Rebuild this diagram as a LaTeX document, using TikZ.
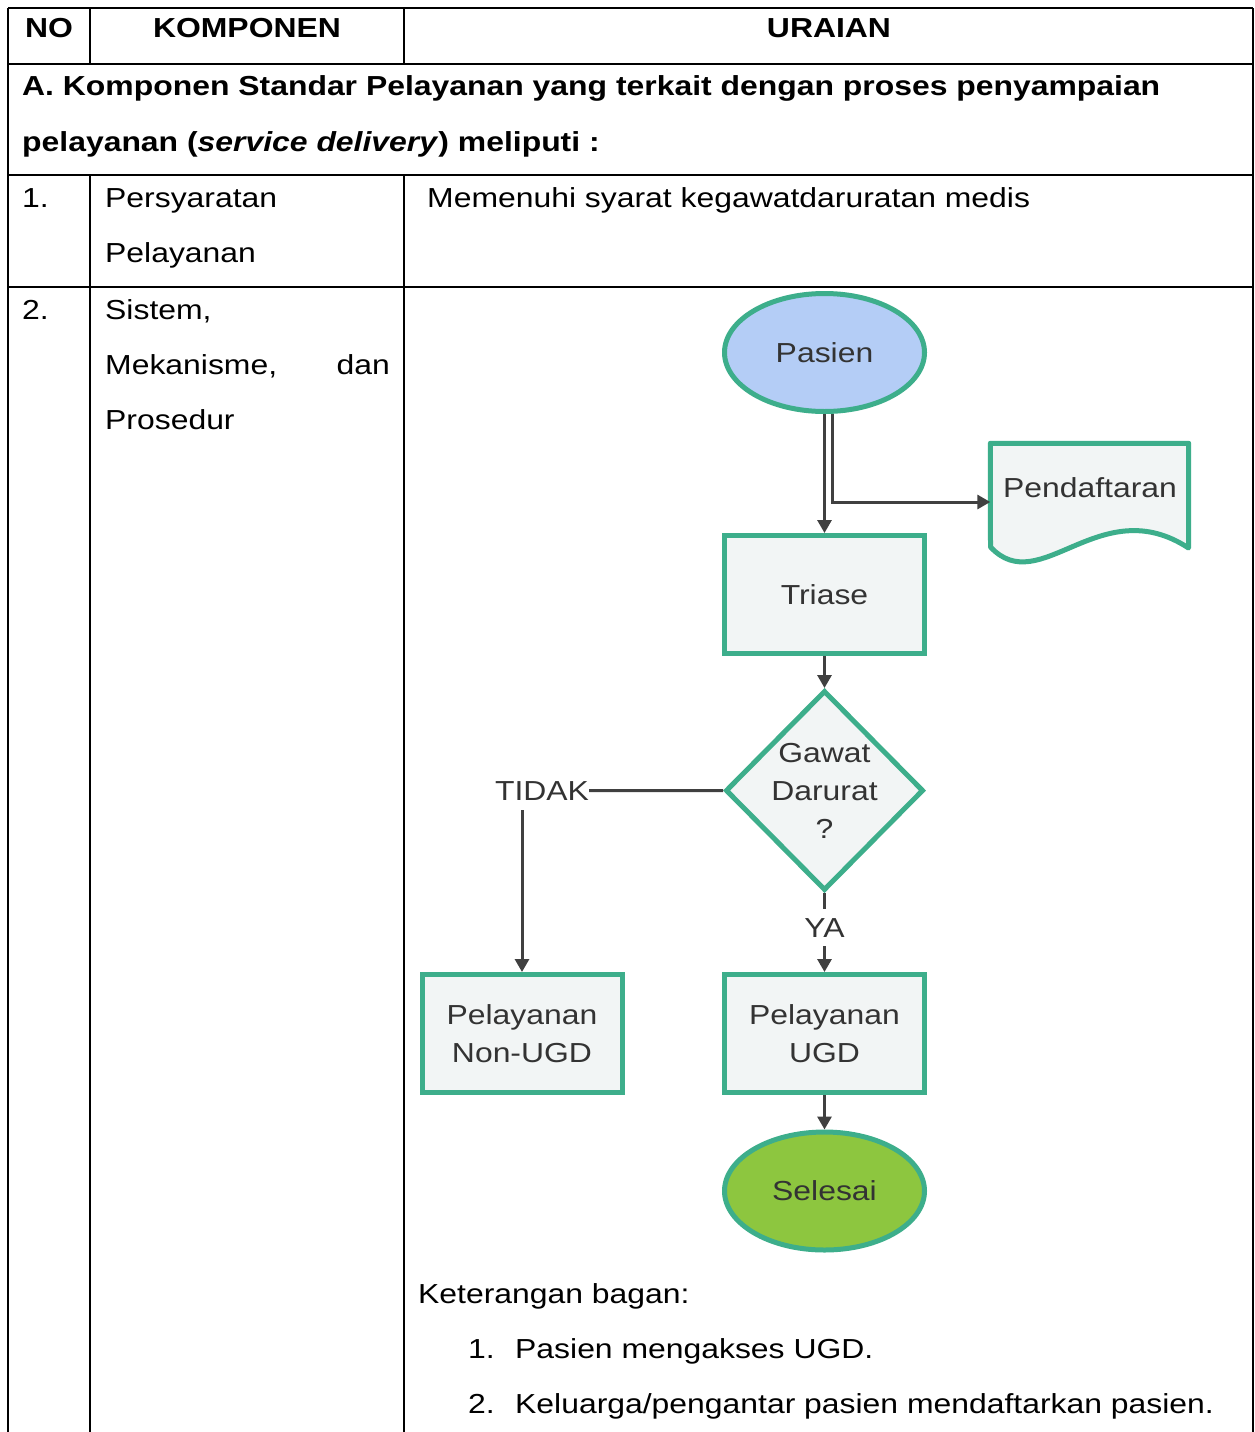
\documentclass[tikz,border=0pt]{standalone}
\usepackage{fontspec}
\setmainfont[FakeStretch=1.16]{Liberation Sans}
\usetikzlibrary{shapes.geometric,arrows.meta,calc}
\definecolor{fcgreen}{HTML}{3DAE8B}
\definecolor{fcblue}{HTML}{B4CDF6}
\definecolor{fcbox}{HTML}{F2F5F5}
\definecolor{fcend}{HTML}{8DC63F}
\definecolor{fctext}{HTML}{333333}
\definecolor{fcarrow}{HTML}{404040}
\begin{document}
\begin{tikzpicture}[x=1pt,y=-1pt,
  tab/.style={line width=2.2pt,black},
  txt/.style={font=\fontsize{27.5}{33}\selectfont,inner sep=0pt,anchor=base west},
  btxt/.style={font=\fontsize{27.5}{33}\selectfont\bfseries,inner sep=0pt},
  fctxt/.style={font=\fontsize{27.5}{38}\selectfont,text=fctext,align=center},
  shapebase/.style={draw=fcgreen,line width=5pt,fctxt,inner sep=0pt},
  fcrect/.style={shapebase,rectangle,fill=fcbox,minimum width=200pt,minimum height=118pt},
  fcterm/.style={shapebase,ellipse,minimum width=200pt,minimum height=118pt},
  fcdiam/.style={shapebase,diamond,fill=fcbox,minimum width=198pt,minimum height=200pt},
  flowarrow/.style={draw=fcarrow,line width=3pt,-{Triangle[length=13pt,width=14pt]}},
  flowline/.style={draw=fcarrow,line width=3pt},
  lbl/.style={fctxt,inner sep=0pt}
]
\useasboundingbox (0,0) rectangle (1255,1432);
\fill[white] (0,0) rectangle (1255,1432);

% table lines
\draw[tab] (8,8) -- (1253,8);
\draw[tab] (8,64) -- (1253,64);
\draw[tab] (8,175) -- (1253,175);
\draw[tab] (8,287) -- (1253,287);
\draw[tab] (8,8) -- (8,1432);
\draw[tab] (1253,8) -- (1253,1432);
\draw[tab] (90,8) -- (90,64);
\draw[tab] (404,8) -- (404,64);
\draw[tab] (90,175) -- (90,1432);
\draw[tab] (404,175) -- (404,1432);

% header
\node[btxt,anchor=base] (hno) at (49,37) {NO};
\node[btxt,anchor=base] (hkomp) at (247,37) {KOMPONEN};
\node[btxt,anchor=base] (hur) at (829,37) {URAIAN};

% section A
\node[btxt,anchor=base west] (secA1) at (22,95) {A. Komponen Standar Pelayanan yang terkait dengan proses penyampaian};
\node[btxt,anchor=base west] (secA2) at (22,151) {pelayanan (\textit{service delivery}) meliputi :};

% row 1
\node[txt] (r1no) at (22,207) {1.};
\node[txt] (r1k1) at (105,207) {Persyaratan};
\node[txt] (r1k2) at (105,262) {Pelayanan};
\node[txt] (r1u) at (427,207) {Memenuhi syarat kegawatdaruratan medis};

% row 2
\node[txt] (r2no) at (22,319) {2.};
\node[txt] (r2k1) at (105,319) {Sistem,};
\node[txt] (r2k2) at (105,374) {Mekanisme,};
\node[txt,anchor=base east] (r2k3) at (390,374) {dan};
\node[txt] (r2k4) at (105,429) {Prosedur};

% flowchart
\node[fcterm,fill=fcblue] (pasien) at (824.5,352.5) {Pasien};
\node[inner sep=0pt,minimum width=198pt,minimum height=117pt] (pend) at (1089.5,502) {};
\path[draw=fcgreen,line width=5pt,fill=fcbox,line join=round]
  (pend.north west) -- (pend.north east) -- ($(pend.center)+(99,46)$)
  .. controls ($(pend.center)+(10.5,-12)$) and ($(pend.center)+(-49.5,98)$) .. ($(pend.center)+(-99,45)$) -- cycle;
\node[lbl] (pendtxt) at (1090,488) {Pendaftaran};
\node[fcrect] (triase) at (824.5,594.5) {Triase};
\node[fcdiam] (gd) at (824.5,790.5) {};
\node[lbl] (gdtxt) at (gd) {Gawat\\Darurat\\?};
\node[lbl,anchor=base] (tidak) at (542,800) {TIDAK};
\node[lbl,anchor=base,inner ysep=9pt] (ya) at (824.5,937) {YA};
\node[fcrect] (nonugd) at (522,1033.5) {Pelayanan\\Non-UGD};
\node[fcrect] (ugd) at (824.5,1033.5) {Pelayanan\\UGD};
\node[fcterm,fill=fcend] (selesai) at (824.5,1191) {Selesai};

\draw[flowarrow] (pasien.south) -- (triase.north);
\draw[flowarrow] ([xshift=8pt]pasien.south) |- (pend.west);
\draw[flowarrow] (triase.south) -- (gd.north);
\draw[flowline] (gd.west) -- (tidak.east);
\draw[flowarrow] ([yshift=-10pt]tidak.south -| nonugd.north) -- (nonugd.north);
\draw[flowline] (gd.south) -- (ya.north);
\draw[flowarrow] (ya.south) -- (ugd.north);
\draw[flowarrow] (ugd.south) -- (selesai.north);

% legend
\node[txt] (ket) at (418,1303) {Keterangan bagan:};
\node[txt] (k1n) at (468,1358) {1.};
\node[txt] (k1) at (515,1358) {Pasien mengakses UGD.};
\node[txt] (k2n) at (468,1413) {2.};
\node[txt] (k2) at (515,1413) {Keluarga/pengantar pasien mendaftarkan pasien.};
\end{tikzpicture}
\end{document}
